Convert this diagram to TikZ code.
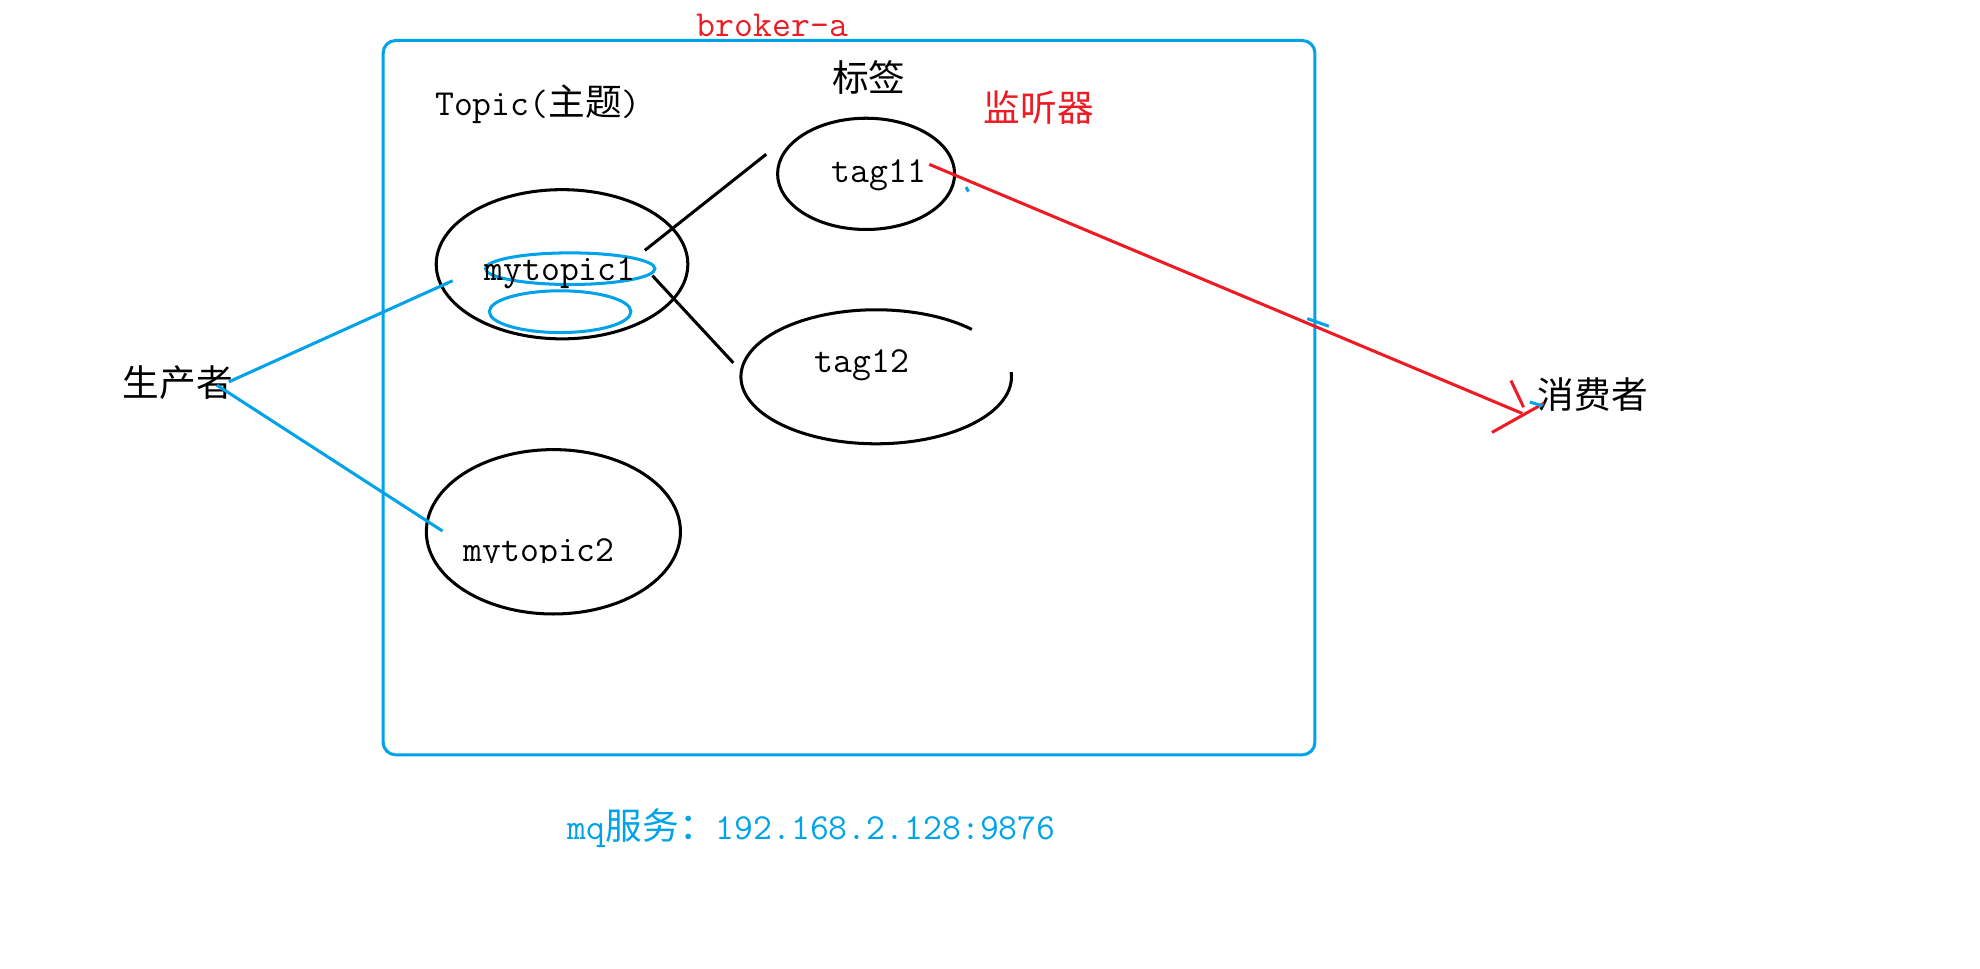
\documentclass[tikz,border=0pt]{standalone}
\usepackage{fontspec}
\newfontfamily\cjk{Noto Sans CJK SC}
\usetikzlibrary{shapes.geometric}
\definecolor{pblue}{RGB}{0,162,232}
\definecolor{pred}{RGB}{237,28,36}
\begin{document}
\begin{tikzpicture}[x=1pt,y=1pt,
  txt/.style={inner sep=0pt, font=\fontsize{29}{29}\selectfont\ttfamily},
  ell/.style={ellipse, draw=black, line width=2.4pt, inner sep=0pt, outer sep=0pt},
  bell/.style={ellipse, draw=pblue, line width=2.4pt, inner sep=0pt, outer sep=0pt},
  blk/.style={draw=black, line width=2.4pt},
  bln/.style={draw=pblue, line width=2.4pt},
  rdl/.style={draw=pred, line width=2.4pt}]
\fill[white] (0,0) rectangle (1566,-766);
\useasboundingbox (0,0) rectangle (1566,-766);

% broker box
\node[draw=pblue, line width=2.4pt, rounded corners=10pt, minimum width=737pt,
      minimum height=565pt, inner sep=0pt] (broker) at (671.5,-314.5) {};

% labels
\node[txt, text=pred, anchor=base west] (brokerlbl) at (551,-28.5) {broker-a};
\node[txt, anchor=west] (biaoqian) at (658,-61) {\cjk 标签};
\node[txt, anchor=base west] (topiclbl) at (344,-91) {Topic({\cjk 主题})};
\node[txt, text=pred, anchor=west] (listener) at (778,-85) {\cjk 监听器};

% topic ellipses
\node[ell, minimum width=199pt, minimum height=118pt] (m1) at (444.5,-209) {};
\node[bell, minimum width=134pt, minimum height=25pt] (m1a) at (451,-212.5) {};
\node[bell, minimum width=112pt, minimum height=33pt] (m1b) at (443,-246.5) {};
\node[txt, anchor=base west] (m1t) at (383,-221.5) {mytopic1};

\node[ell, minimum width=201pt, minimum height=130pt] (m2) at (437.7,-420.6) {};
\begin{scope}
  \clip (340,-400) rectangle (540,-444.5);
  \node[txt, anchor=base west] (m2t) at (366.5,-444) {mytopic2};
\end{scope}

% tag ellipses
\node[ell, minimum width=140pt, minimum height=88pt] (t11) at (685,-137.5) {};
\node[txt, anchor=base west] (t11t) at (657.6,-144.5) {tag11};

\coordinate (t12c) at (693,-298);
\draw[blk] ([shift={(45:107 and 53)}]t12c) arc[start angle=45, end angle=364, x radius=107, y radius=53];
\node[txt, anchor=base west] (t12t) at (644,-295) {tag12};

% producer / consumer
\node[txt, anchor=west] (prod) at (97,-302.5) {\cjk 生产者};
\node[txt, anchor=west] (cons) at (1216,-312) {\cjk 消费者};

% service label
\node[txt, text=pblue, anchor=west] (svc) at (449,-655) {mq{\cjk 服务：}192.168.2.128:9876};

% black connectors
\coordinate (a1) at (510,-198); \coordinate (a2) at (606,-122);
\coordinate (b1) at (516,-218); \coordinate (b2) at (580,-287);
\draw[blk] (a1) -- (a2);
\draw[blk] (b1) -- (b2);

% blue connectors
\coordinate (p1) at (181,-302); \coordinate (p1e) at (358,-222);
\coordinate (p2) at (171.5,-304.6); \coordinate (p2e) at (350,-420);
\draw[bln] (p1) -- (p1e);
\draw[bln] (p2) -- (p2e);

% red listener arrow
\coordinate (r1) at (735,-130); \coordinate (r2) at (1204,-327);
\coordinate (h1) at (1180,-342); \coordinate (h2) at (1221,-319);
\coordinate (h3) at (1195,-301); \coordinate (h4) at (1205,-322);
\draw[rdl] (r1) -- (r2);
\draw[rdl] (h1) -- (h2);
\draw[rdl] (h3) -- (h4);

% small blue marks
\coordinate (k1) at (1034,-252); \coordinate (k2) at (1051,-258);
\draw[bln] (k1) -- (k2);
\coordinate (k3) at (1210,-318); \coordinate (k4) at (1220,-321);
\draw[bln] (k3) -- (k4);
\coordinate (k5) at (764,-148); \coordinate (k6) at (766,-151.5);
\draw[bln] (k5) -- (k6);
\end{tikzpicture}
\end{document}
